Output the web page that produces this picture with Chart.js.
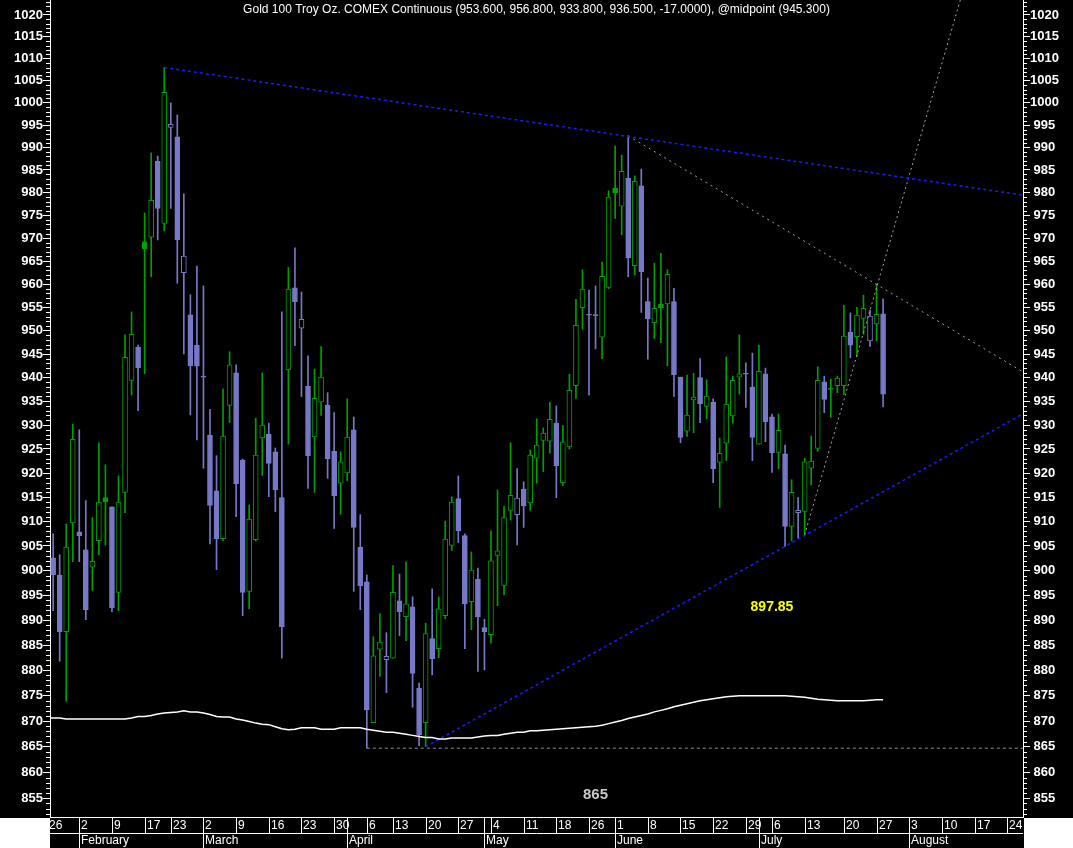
<!DOCTYPE html>
<html>
<head>
<meta charset="utf-8">
<title>Gold 100 Troy Oz. COMEX Continuous</title>
<script src="https://cdn.jsdelivr.net/npm/chart.js@4.4.1/dist/chart.umd.min.js"></script>
<style>
html, body { margin:0; padding:0; background:#000; overflow:hidden; }
#box { position:relative; width:1073px; height:848px; }
</style>
</head>
<body>
<div id="box"><canvas id="chart" width="1073" height="848"></canvas></div>
<script>
// ---------- DATA (x = bar slot on the chart's time axis, slot 0 = Jan 26) ----------
const firstBarSlot = 1;
const priorClose = 903.5;

const openPrices = [
 902.6,899.1,887.7,909.7,907.9,904.2,900.7,906.1,914.9,913.0,
 895.6,916.0,939.4,946.5,969.2,970.2,987.0,973.2,994.5,992.4,
 962.5,953.4,946.9,940.1,927.9,916.3,906.5,934.1,941.0,922.7,
 895.8,906.3,927.3,928.1,924.4,914.9,941.6,959.2,950.5,938.2,
 927.5,934.8,934.2,924.5,917.9,920.0,929.0,904.8,897.7,869.7,
 884.2,882.1,882.4,893.9,890.7,892.7,876.5,869.7,886.3,884.3,
 890.9,905.1,914.7,907.1,893.7,898.3,888.5,887.1,903.1,897.0,
 912.3,911.4,916.7,913.8,923.1,926.8,926.6,930.4,918.0,925.4,
 938.3,954.9,953.3,953.2,948.6,959.3,981.0,977.0,983.2,964.0,
 981.5,956.2,951.7,955.7,955.7,956.2,940.1,928.7,935.3,940.0,
 933.9,934.8,922.2,926.2,931.9,940.1,940.7,938.0,926.0,940.8,
 931.7,924.3,924.0,909.0,911.8,912.1,921.0,925.1,939.1,937.5,
 938.3,938.3,949.7,948.7,952.6,947.8,951.4,953.6
];
const highPrices = [
 907.5,903.2,909.5,930.2,929.0,914.3,910.8,926.3,921.7,913.0,
 919.4,949.1,954.0,946.9,975.5,988.8,988.1,1008.0,1000.0,997.3,
 979.7,957.7,963.9,959.6,933.3,923.6,937.6,945.5,942.7,922.9,
 913.4,931.4,941.0,930.4,925.2,954.0,963.6,967.9,958.3,944.6,
 941.8,946.6,936.8,932.6,924.4,935.5,931.7,911.4,899.1,886.7,
 891.3,887.5,901.0,899.3,901.8,894.7,877.5,889.4,896.3,894.7,
 910.1,915.1,919.4,907.5,903.8,900.5,890.2,908.1,916.5,913.1,
 926.3,920.9,918.2,924.8,931.3,929.4,934.8,934.0,929.9,940.7,
 956.7,963.1,958.7,959.6,964.8,980.4,990.3,988.3,992.6,983.7,
 985.2,961.3,964.5,966.7,963.1,959.1,940.1,940.5,940.9,944.0,
 939.5,935.5,927.3,944.4,940.3,949.1,943.1,945.2,946.9,942.0,
 932.3,932.3,925.8,918.6,914.9,923.1,927.7,942.3,940.3,939.7,
 940.3,955.4,953.8,955.0,957.6,954.4,960.0,956.8
];
const lowPrices = [
 891.9,881.8,873.9,901.8,901.8,890.1,896.0,903.2,905.2,891.7,
 891.9,911.8,936.3,933.0,940.8,961.6,969.6,971.6,976.5,960.2,
 945.0,932.1,926.9,921.0,905.4,900.2,906.1,930.5,911.0,890.9,
 892.3,906.0,919.5,915.1,912.0,882.4,926.0,946.8,936.0,916.8,
 916.0,932.0,918.9,908.6,911.5,918.4,895.8,892.1,864.7,869.7,
 878.8,875.6,882.4,886.9,885.9,872.7,865.2,865.0,879.1,882.5,
 890.3,904.1,905.7,884.3,888.1,879.8,880.1,885.4,892.9,895.1,
 910.3,905.2,908.8,912.3,917.9,920.3,924.1,914.9,917.4,925.0,
 935.6,950.3,936.3,946.1,944.0,959.0,974.3,970.7,961.6,962.0,
 953.9,943.9,948.3,947.4,942.5,936.0,926.3,927.6,928.4,930.5,
 931.3,918.0,912.9,922.6,930.4,936.5,933.7,922.6,926.0,926.5,
 920.1,920.9,904.9,906.1,906.6,907.3,917.5,924.5,932.6,931.6,
 936.8,936.4,944.2,944.6,949.2,946.6,947.8,933.8
];
const closePrices = [
 899.1,887.7,904.8,927.0,907.1,892.1,901.9,914.0,914.1,892.5,
 914.0,944.3,949.2,942.1,967.7,978.3,976.5,1002.4,995.2,969.6,
 966.1,942.5,942.4,940.1,913.3,906.5,927.7,942.7,917.8,895.6,
 910.5,923.7,930.0,922.0,916.5,888.7,958.9,956.2,952.4,923.6,
 935.6,940.1,923.0,915.3,922.3,927.5,908.8,896.9,872.2,882.9,
 885.6,882.8,895.6,891.7,893.3,879.4,867.3,887.3,882.3,892.3,
 906.4,914.0,908.1,893.3,900.1,890.7,887.7,902.0,904.0,910.8,
 915.4,914.8,913.2,923.7,925.8,928.3,931.2,921.5,926.5,937.3,
 951.1,958.9,953.3,953.2,961.7,979.0,980.0,984.7,965.7,982.5,
 962.7,952.5,954.8,954.9,962.1,940.6,927.4,932.1,935.9,934.5,
 936.1,920.9,924.1,934.4,939.4,940.8,940.7,927.4,941.3,930.7,
 924.2,928.9,909.0,916.0,912.3,922.3,922.5,939.4,935.4,937.5,
 939.9,948.8,946.9,953.3,954.8,953.1,953.5,936.5
];
// moving average, one value per slot starting at slot 0
const movingAverage = [
 870.6,870.6,870.6,870.4,870.4,870.4,870.4,870.4,870.4,870.4,
 870.4,870.4,870.4,870.6,870.9,870.9,871.1,871.4,871.6,871.7,
 871.8,872.0,871.8,871.8,871.6,871.3,870.9,870.8,870.8,870.4,
 870.2,869.9,869.6,869.4,869.3,868.9,868.5,868.3,868.4,868.7,
 868.7,868.7,868.4,868.4,868.4,868.7,868.7,868.7,868.7,868.4,
 868.2,868.0,867.8,867.8,867.6,867.4,867.2,867.0,866.8,866.8,
 866.5,866.5,866.7,866.7,866.7,866.7,866.9,867.1,867.2,867.2,
 867.4,867.6,867.8,867.8,868.1,868.1,868.2,868.3,868.4,868.5,
 868.6,868.7,868.8,868.9,869.0,869.2,869.5,869.8,870.1,870.5,
 870.8,871.1,871.4,871.8,872.1,872.4,872.8,873.1,873.4,873.7,
 874.0,874.2,874.4,874.6,874.8,874.9,875.0,875.0,875.0,875.0,
 875.0,875.0,875.0,875.0,874.9,874.8,874.7,874.5,874.3,874.2,
 874.1,874.0,874.0,874.0,874.0,874.0,874.1,874.2,874.2
];
// drawn lines: [slot, price] end points
const resistanceLine = [[18, 1008.0], [150, 979.3]];
const supportLine    = [[58, 865.0], [150, 932.8]];
const fanLine        = [[89, 992.6], [150, 940.7]];
const steepLine      = [[116, 907.3], [141, 1029.6]];
const aprilLowLine   = [[49, 864.7], [150, 864.7]];

const weekTickSlots  = [0,5,10,15,19,24,29,34,39,44,49,53,58,63,68,73,78,83,87,92,97,102,107,111,116,122,127,132,137,142,147];
const weekTickLabels = ['26','2','9','17','23','2','9','16','23','30','6','13','20','27','4','11','18','26','1','8','15','22','29','6','13','20','27','3','10','17','24'];
const monthStartSlots = [5,24,46,67,87,109,132];
const monthNames = ['February','March','April','May','June','July','August'];
const yTickValues = [855,860,865,870,875,880,885,890,895,900,905,910,915,920,925,930,935,940,945,950,955,960,965,970,975,980,985,990,995,1000,1005,1010,1015,1020];
const titleText = 'Gold 100 Troy Oz. COMEX Continuous (953.600, 956.800, 933.800, 936.500, -17.0000), @midpoint (945.300)';
const noteTexts  = ['897.85', '865'];
const noteSlots  = [111, 84];
const notePrices = [892.7, 855.7];

// ---------- SETTINGS ----------
const Y_MIN = 851.4, Y_MAX = 1023.45;
const X_MIN = 0.52, X_MAX = 149.41;
const GREEN = '#00a000', PURPLE = '#7878c8';
const FONT = '"Liberation Sans", Arial, Helvetica, sans-serif';

const bodies = [], wicks = [], edgeCols = [], fillCols = [];
closePrices.forEach((c, k) => {
  const o = openPrices[k];
  const prev = k === 0 ? priorClose : closePrices[k - 1];
  const col = c >= prev ? GREEN : PURPLE;
  bodies.push({x: firstBarSlot + k, y: [Math.min(o, c), Math.max(o, c)]});
  wicks.push({x: firstBarSlot + k, y: [lowPrices[k], highPrices[k]]});
  edgeCols.push(col);
  fillCols.push(c > o ? '#000000' : col);
});
const maPoints = movingAverage.map((v, i) => ({x: i, y: v}));
const linePts = arr => arr.map(p => ({x: p[0], y: p[1]}));

function lineDs(pts, color, width, dash) {
  return {type: 'line', data: linePts(pts), borderColor: color, borderWidth: width, borderDash: dash,
          pointRadius: 0, tension: 0, fill: false, clip: 0, order: 0};
}

function yAxis(pos) {
  return {
    type: 'logarithmic', position: pos, min: Y_MIN, max: Y_MAX,
    afterBuildTicks: s => { s.ticks = [Y_MIN, ...yTickValues, Y_MAX].map(v => ({value: v})); },
    afterFit: s => { s.width = 50; },
    grid: {drawOnChartArea: false, drawTicks: true, tickLength: 7, color: 'rgba(0,0,0,0)',
           tickColor: c => (c.tick && yTickValues.includes(c.tick.value)) ? '#ffffff' : 'rgba(0,0,0,0)'},
    border: {display: true, color: '#ffffff', width: 1},
    ticks: {color: '#ffffff', padding: 0, autoSkip: false, crossAlign: pos === 'left' ? 'near' : 'center',
            font: {family: FONT, size: 13, weight: 'bold'},
            callback: v => yTickValues.includes(v) ? String(v) : []}
  };
}

const decor = {
  id: 'decor',
  beforeDraw(chart) {
    const {ctx, width, height, chartArea: a} = chart;
    ctx.save();
    ctx.fillStyle = '#000'; ctx.fillRect(0, 0, width, height);
    ctx.fillStyle = '#fff';
    ctx.fillRect(0, a.bottom + 1, a.left, height - a.bottom);
    ctx.fillRect(a.right + 1, a.bottom + 1, width - a.right, height - a.bottom);
    ctx.restore();
  },
  afterDraw(chart) {
    const {ctx, width, height, chartArea: a} = chart;
    const xs = chart.scales.x, ys = chart.scales.y;
    ctx.save();
    // minor y ticks
    ctx.strokeStyle = '#fff'; ctx.lineWidth = 1; ctx.beginPath();
    for (let v = Math.ceil(Y_MIN); v <= Math.floor(Y_MAX); v++) {
      if (v % 5 === 0) continue;
      const y = Math.round(ys.getPixelForValue(v)) + 0.5;
      ctx.moveTo(a.left - 4, y); ctx.lineTo(a.left, y);
      ctx.moveTo(a.right, y); ctx.lineTo(a.right + 4, y);
    }
    ctx.stroke();
    // x axis rows
    const r1 = a.bottom, r2 = a.bottom + 16;
    ctx.beginPath();
    ctx.moveTo(a.left, r1 + 0.5); ctx.lineTo(a.right, r1 + 0.5);
    ctx.moveTo(a.left, r2 + 0.5); ctx.lineTo(a.right, r2 + 0.5);
    ctx.stroke();
    ctx.save();
    ctx.beginPath(); ctx.rect(a.left, r1, a.right - a.left, height - r1); ctx.clip();
    ctx.beginPath();
    weekTickSlots.concat(monthStartSlots).forEach(s => {
      const x = Math.round(xs.getPixelForValue(s)) + 0.5;
      ctx.moveTo(x, r1); ctx.lineTo(x, r2);
    });
    monthStartSlots.forEach(s => {
      const x = Math.round(xs.getPixelForValue(s)) + 0.5;
      ctx.moveTo(x, r2); ctx.lineTo(x, height);
    });
    ctx.stroke();
    ctx.fillStyle = '#fff'; ctx.font = '12px ' + FONT; ctx.textBaseline = 'middle'; ctx.textAlign = 'left';
    weekTickSlots.forEach((s, i) => {
      const x = Math.round(xs.getPixelForValue(s));
      ctx.fillText(weekTickLabels[i], x + 2, r1 + 8.5);
    });
    monthStartSlots.forEach((s, i) => {
      const x = Math.round(xs.getPixelForValue(s));
      ctx.fillText(monthNames[i], x + 2, r2 + 8);
    });
    ctx.restore();
    // title
    ctx.fillStyle = '#fff'; ctx.font = '12px ' + FONT; ctx.textAlign = 'center'; ctx.textBaseline = 'middle';
    ctx.fillText(titleText, width / 2, 10);
    // notes
    noteTexts.forEach((t, i) => {
      ctx.font = 'bold ' + (i === 0 ? 14 : 15) + 'px ' + FONT;
      ctx.fillStyle = i === 0 ? '#ffff00' : '#c8c8c8';
      ctx.fillText(t, xs.getPixelForValue(noteSlots[i]), ys.getPixelForValue(notePrices[i]));
    });
    ctx.restore();
  }
};

new Chart(document.getElementById('chart'), {
  type: 'bar',
  data: {
    datasets: [
      {type: 'line', data: maPoints, borderColor: '#ffffff', borderWidth: 1.5, pointRadius: 0, tension: 0, fill: false, clip: 0, order: 0},
      lineDs(resistanceLine, '#1a1aff', 1.5, [3, 3]),
      lineDs(supportLine, '#1a1aff', 1.5, [3, 3]),
      lineDs(fanLine, '#a0a0a0', 1, [2, 4]),
      lineDs(steepLine, '#a0a0a0', 1, [2, 3]),
      lineDs(aprilLowLine, '#8c8c8c', 1, [3, 3]),
      {type: 'bar', data: bodies, backgroundColor: fillCols, borderColor: edgeCols, borderWidth: 1,
       borderSkipped: false, barThickness: 5, grouped: false, minBarLength: 1, clip: 0, order: 1},
      {type: 'bar', data: wicks, backgroundColor: edgeCols, borderWidth: 0,
       barThickness: 1, grouped: false, clip: 0, order: 2}
    ]
  },
  options: {
    responsive: false, maintainAspectRatio: false, animation: false, devicePixelRatio: 1,
    events: [],
    layout: {padding: {top: 0, left: 0, right: 0, bottom: 31}},
    plugins: {legend: {display: false}, tooltip: {enabled: false}, title: {display: false}},
    scales: {
      x: {type: 'linear', display: false, min: X_MIN, max: X_MAX, offset: false},
      y: yAxis('left'),
      y2: yAxis('right')
    }
  },
  plugins: [decor]
});
</script>
</body>
</html>
